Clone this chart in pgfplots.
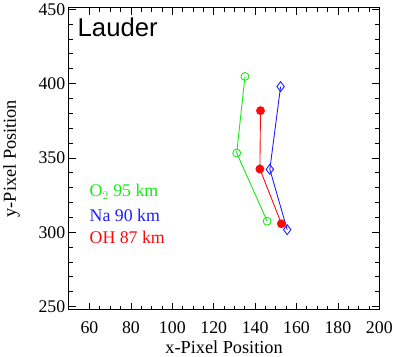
\documentclass[border=0pt]{standalone}
\usepackage{pgfplots}
\pgfplotsset{compat=1.18}
\usepackage{fontspec}
\setmainfont{Liberation Serif}
\newfontfamily\arialfont{Liberation Sans}
\definecolor{cgreen}{RGB}{20,235,20}
\definecolor{cblue}{RGB}{30,30,255}
\definecolor{cred}{RGB}{255,10,10}
\begin{document}
\begin{tikzpicture}
\begin{axis}[
  scale only axis, width=314pt, height=305pt,
  xmin=50, xmax=200, ymin=248, ymax=451,
  xtick={60,80,...,200}, ytick={250,300,...,450},
  minor x tick num=3, minor y tick num=4,
  tick align=inside, major tick length=7pt, minor tick length=4pt,
  tick style={black, line width=0.8pt},
  axis line style={line width=1pt},
  every tick label/.style={font=\fontsize{18}{20}\selectfont},
  xticklabel style={yshift=-9pt},
  /pgf/number format/assume math mode=true,
  /pgf/number format/1000 sep={},
  xlabel={x-Pixel Position}, ylabel={y-Pixel Position},
  label style={font=\fontsize{18.5}{20}\selectfont},
  xlabel style={yshift=0pt},
  ylabel style={yshift=12pt},
  clip=false,
]
\addplot[cgreen, line width=0.9pt, mark=o, mark size=4pt, mark options={solid, line width=0.9pt}]
  coordinates {(135.1,404.8) (131.1,353.3) (145.8,307.4)};
\addplot[cblue, line width=0.9pt, mark=diamond, mark size=5pt, mark options={solid, line width=0.9pt}]
  coordinates {(152.3,398.0) (147.1,342.3) (155.5,301.7)};
\addplot[cred, line width=0.9pt, mark=*, mark size=4pt, mark options={solid, fill=cred}]
  coordinates {(142.6,381.8) (142.3,342.5) (152.7,305.7)};
\node[anchor=west, inner sep=0pt, font=\arialfont\fontsize{26}{28}\selectfont] at (axis cs:54.2,437.7) {Lauder};
\node[anchor=west, inner sep=0pt, text=cgreen, font=\fontsize{18}{20}\selectfont] at (axis cs:60,327.2) {O$_2$ 95 km};
\node[anchor=west, inner sep=0pt, text=cblue, font=\fontsize{18}{20}\selectfont] at (axis cs:60,311.6) {Na 90 km};
\node[anchor=west, inner sep=0pt, text=cred, font=\fontsize{18}{20}\selectfont] at (axis cs:60,296.7) {OH 87 km};
\end{axis}
\end{tikzpicture}
\end{document}
